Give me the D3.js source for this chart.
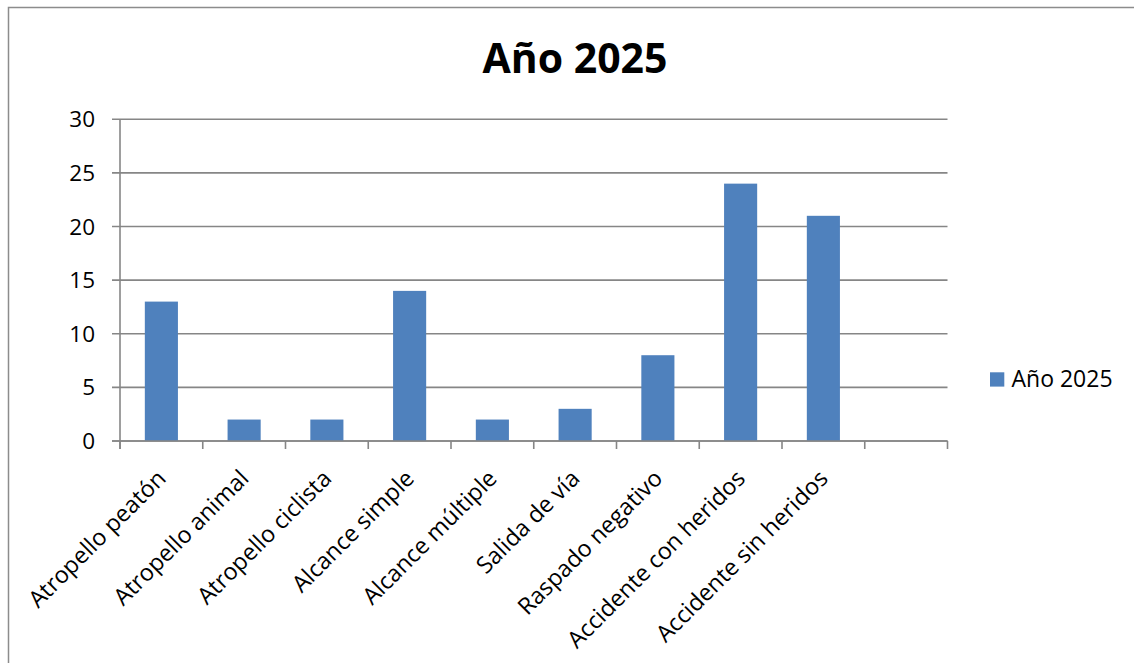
<!DOCTYPE html>
<html>
<head>
<meta charset="utf-8">
<script src="https://cdn.jsdelivr.net/npm/d3@7"></script>
<style>
  html, body { margin: 0; padding: 0; background: #fff; }
  svg { display: block; }
  text { font-family: "Open Sans", "Noto Sans", sans-serif; fill: #000; }
</style>
</head>
<body>
<svg id="chart" width="1134" height="663"></svg>
<script>
const categories = ["Atropello peatón", "Atropello animal", "Atropello ciclista", "Alcance simple", "Alcance múltiple", "Salida de vía", "Raspado negativo", "Accidente con heridos", "Accidente sin heridos", ""];
const values = [13, 2, 2, 14, 2, 3, 8, 24, 21, null];
const yTicks = [0, 5, 10, 15, 20, 25, 30];
const seriesName = "Año 2025";
const chartTitle = "Año 2025";

const svg = d3.select("#chart");
const W = 1134, H = 663;
const plot = { left: 120, right: 947.5, top: 119.3, bottom: 441 };
const gridColor = "#868686";
const barColor = "#4F81BD";

// chart border
svg.append("path")
  .attr("d", `M8.5,${H + 5} L8.5,7.5 L${W + 5},7.5`)
  .attr("fill", "none").attr("stroke", "#8c8c8c").attr("stroke-width", 1.5);

const x = d3.scaleBand().domain(d3.range(categories.length)).range([plot.left, plot.right]).padding(0);
const y = d3.scaleLinear().domain([0, 30]).range([plot.bottom, plot.top]);

// gridlines
svg.append("g").selectAll("line").data(yTicks).join("line")
  .attr("x1", plot.left - 8).attr("x2", plot.right)
  .attr("y1", d => y(d)).attr("y2", d => y(d))
  .attr("stroke", gridColor).attr("stroke-width", 1.6);

// y axis line
svg.append("line").attr("x1", plot.left).attr("x2", plot.left)
  .attr("y1", plot.top).attr("y2", plot.bottom + 8)
  .attr("stroke", gridColor).attr("stroke-width", 1.6);

// y labels
svg.append("g").selectAll("text").data(yTicks).join("text")
  .attr("x", 95).attr("y", d => y(d)).attr("dy", "0.36em")
  .attr("text-anchor", "end").attr("font-size", 22.5).text(d => d);

// x tick marks at band boundaries
const bounds = d3.range(categories.length + 1).map(i => plot.left + i * x.bandwidth());
svg.append("g").selectAll("line").data(bounds).join("line")
  .attr("x1", d => d).attr("x2", d => d)
  .attr("y1", plot.bottom).attr("y2", plot.bottom + 8)
  .attr("stroke", gridColor).attr("stroke-width", 1.6);

// bars
const bw = x.bandwidth() * 0.4;
svg.append("g").selectAll("rect").data(values.map((v, i) => ({ v, i })).filter(d => d.v != null)).join("rect")
  .attr("x", d => x(d.i) + (x.bandwidth() - bw) / 2)
  .attr("width", bw)
  .attr("y", d => y(d.v))
  .attr("height", d => y(0) - y(d.v))
  .attr("fill", barColor);

// x axis baseline (drawn over bars)
svg.append("line").attr("x1", plot.left - 8).attr("x2", plot.right)
  .attr("y1", plot.bottom).attr("y2", plot.bottom)
  .attr("stroke", gridColor).attr("stroke-width", 1.6);

// x labels rotated
svg.append("g").selectAll("text").data(categories).join("text")
  .attr("transform", (d, i) => `translate(${x(i) + x.bandwidth() / 2},${plot.bottom + 33}) rotate(-45)`)
  .attr("text-anchor", "end").attr("dy", "0.36em")
  .attr("font-size", 23.3).text(d => d);

// title
svg.append("text").attr("x", 575).attr("y", 73.3)
  .attr("text-anchor", "middle").attr("font-weight", "bold")
  .attr("font-size", 41).text(chartTitle);

// legend
svg.append("rect").attr("x", 990).attr("y", 372.3).attr("width", 14.3).attr("height", 14.3).attr("fill", barColor);
svg.append("text").attr("x", 1011.5).attr("y", 386.7).attr("font-size", 23).text(seriesName);
</script>
</body>
</html>
